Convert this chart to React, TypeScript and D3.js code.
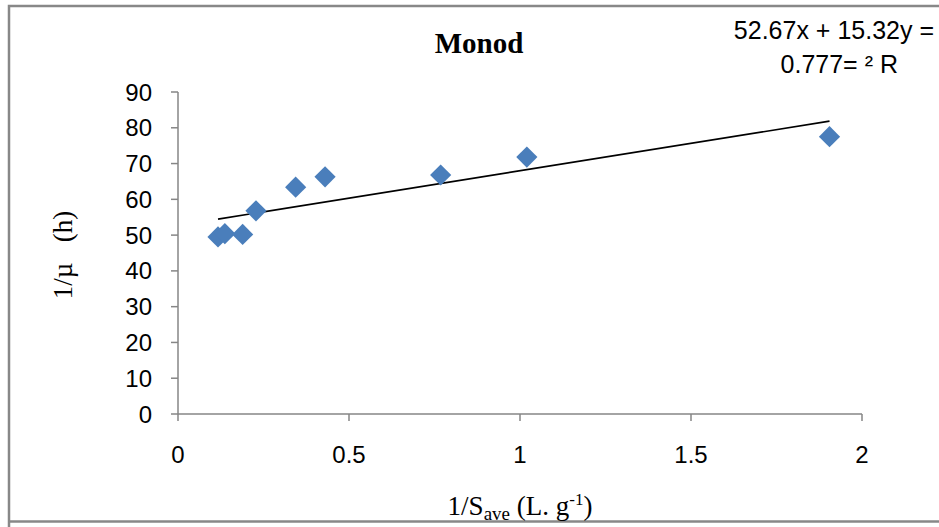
import React from "react";
import * as d3 from "d3";

const xValues = [0.117, 0.137, 0.189, 0.228, 0.344, 0.43, 0.768, 1.02, 1.905];
const yValues = [49.5, 50.4, 50.2, 56.8, 63.4, 66.3, 66.8, 71.8, 77.5];
const xTicks = [0, 0.5, 1, 1.5, 2];
const yTicks = [0, 10, 20, 30, 40, 50, 60, 70, 80, 90];
const slope = 15.32;
const intercept = 52.67;

export default function App() {
  const W = 939, H = 527;
  const x = d3.scaleLinear().domain([0, 2]).range([178, 862]);
  const y = d3.scaleLinear().domain([0, 90]).range([414, 92]);
  const xMin = d3.min(xValues)!;
  const xMax = d3.max(xValues)!;
  const line = d3.line<number>().x((d) => x(d)).y((d) => y(slope * d + intercept));
  const axisColor = "#868686";
  const sans = "'Liberation Sans', Arial, sans-serif";
  const serif = "'Liberation Serif', 'Times New Roman', serif";
  return (
    <svg width={W} height={H} style={{ position: "absolute", left: 0, top: 0, background: "#fff" }}>
      {/* outer border */}
      <path d={`M9,${H} V6 H${W}`} fill="none" stroke="#888" strokeWidth={2.5} />
      <line x1={9} x2={W} y1={521.5} y2={521.5} stroke="#888" strokeWidth={2.5} />
      {/* axes */}
      <line x1={x(0)} x2={x(2)} y1={y(0)} y2={y(0)} stroke={axisColor} strokeWidth={1.5} />
      <line x1={x(0)} x2={x(0)} y1={y(0)} y2={y(90)} stroke={axisColor} strokeWidth={1.5} />
      {yTicks.map((t) => (
        <g key={"y" + t}>
          <line x1={x(0) - 7} x2={x(0)} y1={y(t)} y2={y(t)} stroke={axisColor} strokeWidth={1.5} />
          <text x={152} y={y(t) + 8.5} textAnchor="end" fontFamily={sans} fontSize={24} fill="#000">
            {t}
          </text>
        </g>
      ))}
      {xTicks.map((t) => (
        <g key={"x" + t}>
          <line x1={x(t)} x2={x(t)} y1={y(0)} y2={y(0) + 7} stroke={axisColor} strokeWidth={1.5} />
          <text x={x(t)} y={463} textAnchor="middle" fontFamily={sans} fontSize={24} fill="#000">
            {t}
          </text>
        </g>
      ))}
      {/* trendline */}
      <path d={line([xMin, xMax]) || ""} fill="none" stroke="#000" strokeWidth={1.6} />
      {/* points */}
      {xValues.map((v, i) => (
        <rect
          key={i}
          x={-7.5}
          y={-7.5}
          width={15}
          height={15}
          fill="#4A7EBB"
          transform={`translate(${x(v)},${y(yValues[i])}) rotate(45)`}
        />
      ))}
      {/* title */}
      <text x={479} y={53} textAnchor="middle" fontFamily={serif} fontWeight="bold" fontSize={29} fill="#000">
        Monod
      </text>
      {/* equation */}
      <text x={934} y={39} textAnchor="end" fontFamily={sans} fontSize={25} fill="#000">
        52.67x + 15.32y =
      </text>
      <text x={898} y={73} textAnchor="end" fontFamily={sans} fontSize={25} fill="#000">
        0.777= ² R
      </text>
      {/* y label */}
      <text
        transform={`translate(72,255) rotate(-90)`}
        textAnchor="middle"
        fontFamily={serif}
        fontSize={27}
        fill="#000"
        style={{ whiteSpace: "pre" }}
      >
        {"1/µ   (h)"}
      </text>
      {/* x label */}
      <text x={520} y={515} textAnchor="middle" fontFamily={serif} fontSize={27} fill="#000">
        1/S
        <tspan fontSize={19} dy={5}>ave</tspan>
        <tspan dy={-5}> (L. g</tspan>
        <tspan fontSize={17} dy={-10}>-1</tspan>
        <tspan dy={10}>)</tspan>
      </text>
    </svg>
  );
}
